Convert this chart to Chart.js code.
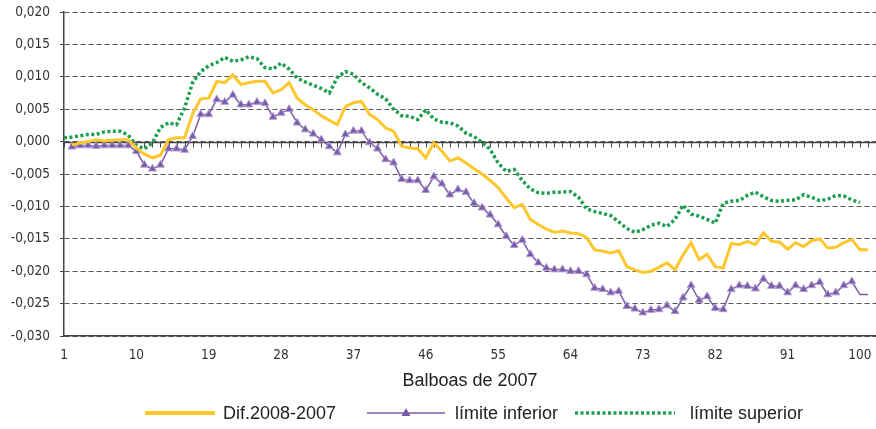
<!DOCTYPE html>
<html>
<head>
<meta charset="utf-8">
<script src="https://cdn.jsdelivr.net/npm/chart.js@4.4.1/dist/chart.umd.min.js"></script>
<style>
  html, body { margin: 0; padding: 0; background: #fff; overflow: hidden; }
  #wrap { position: relative; width: 876px; height: 429px; }
  #legend { position: absolute; left: 0; top: 402px; width: 876px; height: 22px;
            font-family: 'Liberation Sans', Arial, sans-serif; font-size: 18px; color: #222; }
  .item { position: absolute; top: 0; height: 22px; display: flex; align-items: center; white-space: nowrap; }
  .item canvas { display: block; }
</style>
</head>
<body>
<div id="wrap">
  <canvas id="chart"></canvas>
  <div id="legend"></div>
</div>
<script>
// categories 1..102 (last one is empty, the plot runs to the right edge)
const categories = Array.from({ length: 102 }, (_, i) => String(i + 1));
const xTickLabels = ["1", "10", "19", "28", "37", "46", "55", "64", "73", "82", "91", "100"];
const yTickValues = [-0.03, -0.025, -0.02, -0.015, -0.01, -0.005, 0, 0.005, 0.01, 0.015, 0.02];

// values in thousandths (null = no point)
const difValues = [
  null, -0.5, -0.2, 0.0, 0.3, 0.1, 0.2, 0.3, 0.3, -1.0,
  -1.9, -2.5, -2.1, 0.3, 0.6, 0.6, 4.3, 6.6, 6.7, 9.3,
  9.1, 10.3, 8.8, 9.1, 9.3, 9.3, 7.5, 8.0, 9.1, 6.7,
  5.7, 4.9, 4.0, 3.3, 2.6, 5.4, 6.0, 6.2, 4.2, 3.4,
  2.1, 1.6, -0.7, -1.0, -1.1, -2.5, -0.2, -1.5, -3.0, -2.5,
  -3.3, -4.2, -5.0, -6.0, -7.1, -8.7, -10.2, -9.7, -12.0, -12.8,
  -13.5, -14.0, -13.8, -14.1, -14.2, -14.8, -16.7, -16.9, -17.2, -16.8,
  -19.3, -19.8, -20.2, -20.0, -19.4, -18.7, -19.75, -17.5, -15.6, -18.2,
  -17.4, -19.3, -19.5, -15.7, -15.9, -15.4, -15.9, -14.1, -15.4, -15.5,
  -16.6, -15.6, -16.2, -15.3, -15.0, -16.4, -16.3, -15.6, -15.1, -16.7,
  -16.7, null
];

const lowerValues = [
  null, -0.8, -0.6, -0.6, -0.7, -0.6, -0.6, -0.6, -0.6, -1.5,
  -3.6, -4.2, -3.6, -1.1, -1.1, -1.3, 0.8, 4.2, 4.2, 6.5,
  6.1, 7.2, 5.7, 5.7, 6.1, 5.9, 3.8, 4.4, 5.0, 2.9,
  1.85, 1.2, 0.3, -0.75, -1.7, 1.1, 1.65, 1.65, -0.15, -1.1,
  -2.75, -3.25, -5.8, -6.0, -6.0, -7.5, -5.4, -6.5, -8.2, -7.4,
  -7.8, -9.5, -10.2, -11.3, -12.8, -14.6, -16.0, -15.2, -17.4, -18.7,
  -19.5, -19.75, -19.75, -20.0, -20.0, -20.5, -22.6, -22.8, -23.3, -23.1,
  -25.4, -25.8, -26.4, -26.0, -25.9, -25.3, -26.2, -24.1, -22.2, -24.5,
  -23.9, -25.7, -25.9, -22.8, -22.2, -22.3, -22.7, -21.2, -22.3, -22.3,
  -23.3, -22.2, -22.8, -22.2, -21.7, -23.6, -23.3, -22.2, -21.6, -23.6,
  -23.6, null
];

const upperValues = [
  0.6, 0.7, 0.9, 1.1, 1.1, 1.5, 1.6, 1.6, 1.0, -0.6,
  -1.1, -0.2, 2.2, 2.9, 2.6, 5.2, 9.1, 10.8, 11.7, 12.2,
  13.0, 12.4, 12.6, 13.1, 12.8, 11.4, 11.2, 12.1, 11.2, 9.8,
  9.2, 8.7, 8.2, 7.5, 9.9, 10.8, 10.4, 9.1, 8.3, 7.3,
  6.6, 5.0, 4.0, 3.9, 3.4, 4.9, 3.5, 3.0, 2.9, 2.4,
  1.3, 0.8, -0.1, -1.2, -3.3, -4.6, -4.3, -6.0, -7.3, -7.9,
  -8.0, -7.8, -7.8, -7.7, -8.6, -10.4, -10.8, -11.1, -11.4, -12.4,
  -13.4, -14.0, -13.6, -12.9, -12.6, -13.1, -12.0, -9.8, -11.2, -11.5,
  -12.0, -12.6, -9.5, -9.2, -9.1, -8.3, -7.8, -8.5, -9.1, -9.2,
  -9.05, -9.0, -8.2, -8.6, -9.1, -8.9, -8.3, -8.4, -9.0, -9.4,
  null, null
];

const seriesNames = ["Dif.2008-2007", "límite inferior", "límite superior"];

const YELLOW = "#FFC72C";
const PURPLE = "#7A5BA6";
const GREEN = "#1E9E50";
const tickFont = { family: "'Liberation Sans Narrow', 'DejaVu Sans Condensed', 'Liberation Sans', sans-serif", size: 13.5 };

function toUnits(arr) {
  return arr.map((v) => (v === null ? null : v / 1000));
}

// purple markers stop before the last two points
const lowerRadius = lowerValues.map((v, i) => (v === null || i >= 99 ? 0 : 4.5));

const zeroLine = {
  id: "zeroLine",
  beforeDatasetsDraw(chart) {
    const { ctx, chartArea, scales } = chart;
    const y0 = Math.round(scales.y.getPixelForValue(0)) + 0.5;
    ctx.save();
    ctx.strokeStyle = "#444";
    ctx.lineWidth = 1.5;
    ctx.beginPath();
    ctx.moveTo(chartArea.left, y0);
    ctx.lineTo(chartArea.right, y0);
    ctx.stroke();
    ctx.lineWidth = 1;
    ctx.beginPath();
    categories.forEach((c, i) => {
      const px = Math.round(scales.x.getPixelForValue(i)) + 0.5;
      ctx.moveTo(px, y0);
      ctx.lineTo(px, y0 + 5);
    });
    ctx.stroke();
    ctx.restore();
  },
};

const ctx = document.getElementById("chart").getContext("2d");
const chart = new Chart(ctx, {
  type: "line",
  data: {
    labels: categories,
    datasets: [
      {
        label: seriesNames[0],
        data: toUnits(difValues),
        borderColor: YELLOW,
        borderWidth: 3,
        pointRadius: 0,
        tension: 0,
      },
      {
        label: seriesNames[1],
        data: toUnits(lowerValues),
        borderColor: PURPLE,
        borderWidth: 1.5,
        pointStyle: "triangle",
        pointRadius: lowerRadius,
        pointBackgroundColor: PURPLE,
        pointBorderColor: "#AE9BD3",
        pointBorderWidth: 1,
        tension: 0,
      },
      {
        label: seriesNames[2],
        data: toUnits(upperValues),
        borderColor: GREEN,
        borderWidth: 3.5,
        borderDash: [3, 2.5],
        pointRadius: 0,
        tension: 0,
      },
    ],
  },
  options: {
    responsive: true,
    maintainAspectRatio: false,
    animation: false,
    layout: { autoPadding: false, padding: { left: 0, right: 0, top: 12, bottom: 35 } },
    plugins: {
      tooltip: { enabled: false },
      legend: { display: false },
    },
    scales: {
      x: {
        type: "category",
        offset: false,
        afterFit(scale) {
          scale.height = 58;
          scale.paddingLeft = 0;
          scale.paddingRight = 0;
        },
        grid: { display: false, drawTicks: false },
        border: { display: true, color: "#444", width: 1.5 },
        ticks: {
          autoSkip: false,
          maxRotation: 0,
          padding: 11,
          color: "#333",
          font: tickFont,
          callback(value, index) {
            const lab = categories[index];
            return xTickLabels.includes(lab) ? lab : "";
          },
        },
        title: {
          display: true,
          text: "Balboas de 2007",
          color: "#222",
          font: { family: "'Liberation Sans', Arial, sans-serif", size: 18 },
          padding: { top: 0, bottom: 2 },
        },
      },
      y: {
        min: -0.03,
        max: 0.02,
        afterFit(scale) {
          scale.width = 64;
          scale.paddingTop = 0;
          scale.paddingBottom = 0;
        },
        afterBuildTicks(scale) { scale.ticks = yTickValues.map((v) => ({ value: v })); },
        grid: {
          color: "#555",
          lineWidth: 1,
          drawTicks: true,
          tickLength: 4,
          tickColor: "#444",
          tickBorderDash: [],
        },
        border: { display: true, color: "#444", width: 1.5, dash: [5, 3] },
        ticks: {
          padding: 10,
          color: "#333",
          font: tickFont,
          callback(value) { return value.toFixed(3).replace(".", ","); },
        },
      },
    },
  },
  plugins: [zeroLine],
});

// html legend: line samples + series names
const legendItems = [
  { left: 145, width: 70, gap: 8, draw: (g) => {
      g.strokeStyle = YELLOW; g.lineWidth = 4;
      g.beginPath(); g.moveTo(0, 11); g.lineTo(70, 11); g.stroke();
  } },
  { left: 367, width: 78, gap: 10, draw: (g) => {
      g.strokeStyle = PURPLE; g.lineWidth = 1.5;
      g.beginPath(); g.moveTo(0, 11); g.lineTo(78, 11); g.stroke();
      g.fillStyle = PURPLE;
      g.beginPath(); g.moveTo(39, 6); g.lineTo(43.5, 14); g.lineTo(34.5, 14); g.closePath(); g.fill();
  } },
  { left: 575, width: 100, gap: 15, draw: (g) => {
      g.strokeStyle = GREEN; g.lineWidth = 3.5; g.setLineDash([3, 2.5]);
      g.beginPath(); g.moveTo(0, 11); g.lineTo(100, 11); g.stroke();
  } },
];
const legendEl = document.getElementById("legend");
legendItems.forEach((it, i) => {
  const div = document.createElement("div");
  div.className = "item";
  div.style.left = it.left + "px";
  const c = document.createElement("canvas");
  c.width = it.width;
  c.height = 22;
  c.style.marginRight = it.gap + "px";
  it.draw(c.getContext("2d"));
  const span = document.createElement("span");
  span.textContent = seriesNames[i];
  div.appendChild(c);
  div.appendChild(span);
  legendEl.appendChild(div);
});
</script>
</body>
</html>
